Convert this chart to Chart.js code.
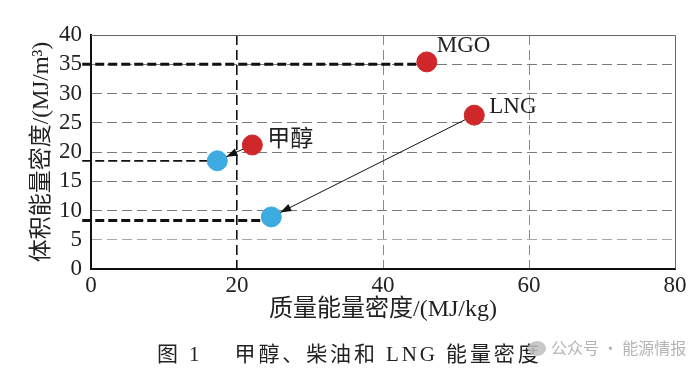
<!DOCTYPE html>
<html lang="zh">
<head>
    <meta charset="UTF-8">
    <title>甲醇、柴油和 LNG 能量密度</title>
    <script src="https://cdn.jsdelivr.net/npm/chart.js"></script>
    <style>
        body {
            margin: 0;
            padding: 0;
            background: #fff;
        }
        .wrap {
            position: relative;
            width: 700px;
            height: 376px;
            overflow: hidden;
        }
        canvas {
            display: block;
        }
        .caption {
            position: absolute;
            left: 157px;
            top: 337px;
            font-family: "Liberation Serif", "Noto Sans CJK SC", serif;
            font-size: 21px;
            color: #222;
            letter-spacing: 2.9px;
            white-space: pre;
        }
        .mark {
            position: absolute;
            left: 528px;
            top: 335px;
            font-family: "Noto Sans CJK SC", sans-serif;
            font-size: 16px;
            color: #b4b4b4;
            white-space: pre;
        }
        .mark .icon {
            display: inline-block;
            width: 18px;
            height: 15px;
            border-radius: 50%;
            background: rgba(190, 190, 190, 0.85);
            vertical-align: -2px;
            margin-right: 5px;
        }
    </style>
</head>
<body>
    <div class="wrap">
        <canvas id="densityChart" width="700" height="376"></canvas>
        <div class="caption">图 1　 甲醇、柴油和 LNG 能量密度</div>
        <div class="mark"><span class="icon"></span>公众号 · 能源情报</div>
    </div>

    <script>
        // fuels before conversion (red) and converted points (blue)
        const fuels = ['MGO', 'LNG', '甲醇'];
        const massDensity = [46.0, 52.5, 22.1];   // MJ/kg
        const volDensity = [35.4, 26.3, 21.2];    // MJ/m3
        const convMass = [null, 24.7, 17.3];
        const convVol = [null, 8.9, 18.5];

        // black dashed guide lines to the y axis
        const guideLevels = [35, 8.3, 18.5];
        const guideEnds = [45.5, 24.0, 16.5];
        const guideWidths = [3, 3, 1.8];
        const guideStart = -1.2;

        const xTicks = [0, 20, 40, 60, 80];
        const yTicks = [0, 5, 10, 15, 20, 25, 30, 35, 40];

        const serif = '"Liberation Serif", "Noto Sans CJK SC", serif';
        const red = '#d0282a';
        const blue = '#3eaae2';

        const redPoints = fuels.map((f, i) => ({ x: massDensity[i], y: volDensity[i] }));
        const bluePoints = [];
        convMass.forEach((m, i) => {
            if (m !== null) bluePoints.push({ x: m, y: convVol[i] });
        });

        const guideSets = guideLevels.map((lvl, i) => ({
            type: 'line',
            data: [{ x: guideStart, y: lvl }, { x: guideEnds[i], y: lvl }],
            borderColor: '#111',
            borderWidth: guideWidths[i],
            borderDash: [9, 4],
            pointRadius: 0,
            clip: false,
            order: 5
        }));

        const labelOffsets = [[10, -16], [15, -8], [15, -5]];

        const extras = {
            id: 'extras',
            beforeDatasetsDraw(chart) {
                const { ctx, chartArea: a } = chart;
                ctx.save();
                ctx.strokeStyle = '#666';
                ctx.lineWidth = 1;
                ctx.beginPath();
                ctx.moveTo(a.left, a.top + 0.5);
                ctx.lineTo(a.right + 0.5, a.top + 0.5);
                ctx.lineTo(a.right + 0.5, a.bottom);
                ctx.stroke();
                ctx.restore();
            },
            afterDatasetsDraw(chart) {
                const { ctx, scales: { x, y } } = chart;
                ctx.save();
                // arrows from original to converted point
                ctx.strokeStyle = '#111';
                ctx.fillStyle = '#111';
                ctx.lineWidth = 1;
                fuels.forEach((f, i) => {
                    if (convMass[i] === null) return;
                    const x1 = x.getPixelForValue(massDensity[i]);
                    const y1 = y.getPixelForValue(volDensity[i]);
                    const x2 = x.getPixelForValue(convMass[i]);
                    const y2 = y.getPixelForValue(convVol[i]);
                    const ang = Math.atan2(y2 - y1, x2 - x1);
                    const r = 10;
                    const sx = x1 + Math.cos(ang) * r, sy = y1 + Math.sin(ang) * r;
                    const ex = x2 - Math.cos(ang) * r, ey = y2 - Math.sin(ang) * r;
                    ctx.beginPath();
                    ctx.moveTo(sx, sy);
                    ctx.lineTo(ex, ey);
                    ctx.stroke();
                    const hl = 11, hw = 4;
                    ctx.beginPath();
                    ctx.moveTo(ex, ey);
                    ctx.lineTo(ex - Math.cos(ang) * hl - Math.sin(ang) * hw, ey - Math.sin(ang) * hl + Math.cos(ang) * hw);
                    ctx.lineTo(ex - Math.cos(ang) * hl + Math.sin(ang) * hw, ey - Math.sin(ang) * hl - Math.cos(ang) * hw);
                    ctx.closePath();
                    ctx.fill();
                });
                // point labels
                ctx.font = '23px ' + serif;
                ctx.fillStyle = '#222';
                ctx.textBaseline = 'middle';
                fuels.forEach((f, i) => {
                    const px = x.getPixelForValue(massDensity[i]) + labelOffsets[i][0];
                    const py = y.getPixelForValue(volDensity[i]) + labelOffsets[i][1];
                    ctx.fillText(f, px, py);
                });
                ctx.restore();
            }
        };

        new Chart(document.getElementById('densityChart'), {
            type: 'scatter',
            data: {
                datasets: [
                    {
                        data: redPoints,
                        backgroundColor: red,
                        borderColor: red,
                        pointRadius: 10,
                        order: 0
                    },
                    {
                        data: bluePoints,
                        backgroundColor: blue,
                        borderColor: blue,
                        pointRadius: 10,
                        order: 0
                    },
                    ...guideSets
                ]
            },
            options: {
                responsive: false,
                animation: false,
                layout: { padding: { top: 35, right: 25, bottom: 0, left: 0 } },
                plugins: {
                    legend: { display: false },
                    tooltip: { enabled: false }
                },
                scales: {
                    x: {
                        type: 'linear',
                        min: 0,
                        max: 80,
                        afterBuildTicks: (s) => { s.ticks = xTicks.map(v => ({ value: v })); },
                        afterFit: (s) => { s.height = 107; },
                        ticks: {
                            autoSkip: false,
                            font: { family: serif, size: 23 },
                            color: '#222',
                            padding: 3
                        },
                        grid: {
                            drawTicks: false,
                            color: (c) => {
                                const v = c.tick && c.tick.value;
                                if (v === 0 || v === 80) return 'rgba(0,0,0,0)';
                                return v === 20 ? '#111' : '#8a8a8a';
                            },
                            lineWidth: (c) => (c.tick && c.tick.value === 20 ? 1.6 : 1)
                        },
                        border: { display: true, color: '#111', width: 2, dash: [10, 5] },
                        title: {
                            display: true,
                            text: '质量能量密度/(MJ/kg)',
                            font: { family: serif, size: 24 },
                            color: '#222',
                            padding: { top: 0, bottom: 52 }
                        }
                    },
                    y: {
                        min: 0,
                        max: 40,
                        afterBuildTicks: (s) => { s.ticks = yTicks.map(v => ({ value: v })); },
                        afterFit: (s) => { s.width = 91; },
                        ticks: {
                            autoSkip: false,
                            font: { family: serif, size: 23 },
                            color: '#222',
                            padding: 9
                        },
                        grid: {
                            drawTicks: false,
                            color: (c) => {
                                const v = c.tick && c.tick.value;
                                if (v === 0 || v === 40) return 'rgba(0,0,0,0)';
                                return v === 5 ? '#a8a8a8' : '#7a7a7a';
                            },
                            lineWidth: 1
                        },
                        border: { display: true, color: '#111', width: 2, dash: [10, 5] },
                        title: {
                            display: true,
                            text: '体积能量密度/(MJ/m³)',
                            font: { family: serif, size: 23 },
                            color: '#222',
                            padding: { top: 28, bottom: 0 }
                        }
                    }
                }
            },
            plugins: [extras]
        });
    </script>
</body>
</html>
